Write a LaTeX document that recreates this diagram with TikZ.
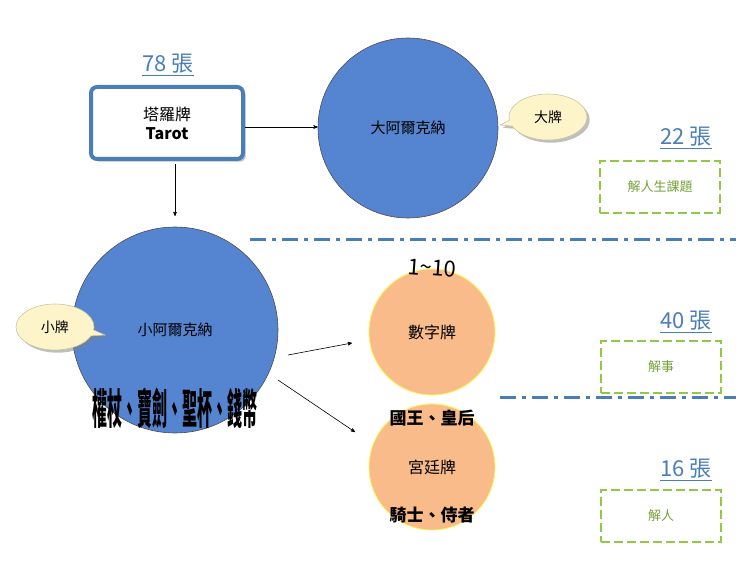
\documentclass[tikz,border=0pt]{standalone}
\usepackage{fontspec}
\setmainfont{Noto Sans CJK TC}
\usetikzlibrary{arrows,shapes.callouts,shadows}
\definecolor{tarotblue}{HTML}{4A7EBB}
\definecolor{bigblue}{HTML}{5585D0}
\definecolor{cardorange}{HTML}{F9BB8A}
\definecolor{notegreen}{HTML}{92C846}
\definecolor{bubble}{HTML}{FDF5C9}

\begin{document}
\begin{tikzpicture}[x=1pt,y=-1pt,->,>=stealth',semithick]
  \tikzstyle{count}=[text=tarotblue,font=\fontsize{22}{24}\selectfont]
  \tikzstyle{big}=[circle,draw=black!70,fill=bigblue,inner sep=0pt,font=\fontsize{15}{17}\selectfont]
  \tikzstyle{small}=[circle,draw=yellow!70,thick,fill=cardorange,inner sep=0pt,minimum size=126pt,
                     font=\fontsize{16}{18}\selectfont]
  \tikzstyle{note}=[rectangle,draw=notegreen,dash pattern=on 9pt off 4pt,line width=2.5pt,
                    text=notegreen!80!black,minimum width=120pt,minimum height=52pt,
                    font=\fontsize{13}{15}\selectfont]
  \tikzstyle{tag}=[ellipse callout,fill=bubble,draw=bubble!80!black,drop shadow,
                   minimum width=78pt,minimum height=46pt,font=\fontsize{14}{16}\selectfont]
  \tikzstyle{curved}=[font=\bfseries\fontsize{17}{19}\selectfont]

  \useasboundingbox (0,0) rectangle (740,567);

  \node[count] (n78) at (168,65) {\underline{78 張}};
  \node[rectangle,rounded corners=6pt,draw=tarotblue,line width=4pt,fill=white,
        drop shadow,minimum width=152pt,minimum height=72pt,align=center,
        font=\fontsize{16}{19}\selectfont]
        (tarot) at (167,123) {塔羅牌\\ \textbf{Tarot}};

  \node[big,minimum size=180pt] (major) at (408,128) {大阿爾克納};
  \node[tag,callout absolute pointer={(500,125)}] (majtag) at (548,117) {大牌};
  \node[count] (n22) at (686,138) {\underline{22 張}};
  \node[note] (life) at (660,187) {解人生課題};

  \node[big,minimum size=206pt] (minor) at (175,330) {小阿爾克納};
  \node[tag,callout absolute pointer={(105,335)}] (mintag) at (55,327) {小牌};
  \node[font=\bfseries\fontsize{30}{32}\selectfont,xscale=0.5,yscale=1.4]
        (suits) at (175,408) {權杖、寶劍、聖杯、錢幣};

  \node[small] (num) at (432,332) {數字牌};
  \node[font=\fontsize{22}{24}\selectfont\itshape,rotate=-4] (range) at (432,268) {1\textasciitilde10};
  \node[count] (n40) at (686,322) {\underline{40 張}};
  \node[note] (matter) at (661,367) {解事};

  \node[small] (court) at (432,467) {宮廷牌};
  \node[curved] (kq) at (432,418) {國王、皇后};
  \node[curved] (kp) at (432,515) {騎士、侍者};
  \node[count] (n16) at (686,470) {\underline{16 張}};
  \node[note] (person) at (661,516) {解人};

  \coordinate (l1a) at (250,240); \coordinate (l1b) at (736,240);
  \coordinate (l2a) at (500,397); \coordinate (l2b) at (736,397);
  \draw[-,tarotblue,line width=3pt,dash pattern=on 16pt off 6pt on 4pt off 6pt] (l1a) -- (l1b);
  \draw[-,tarotblue,line width=3pt,dash pattern=on 16pt off 6pt on 4pt off 6pt] (l2a) -- (l2b);

  \draw (tarot.east |- 0,127) -- (major.west |- 0,127);
  \draw (175,164) -- (175,216);
  \coordinate (a1) at (288,355); \coordinate (a2) at (278,380);
  \draw (a1) -- (352,343);
  \draw (a2) -- (355,432);
\end{tikzpicture}
\end{document}
